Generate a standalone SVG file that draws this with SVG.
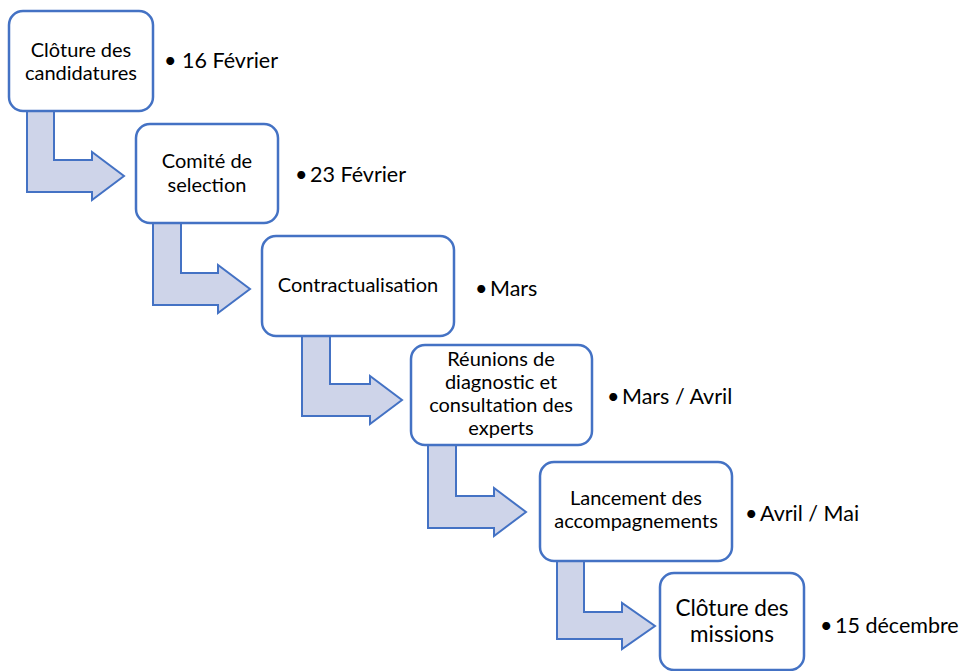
<svg xmlns="http://www.w3.org/2000/svg" width="964" height="671" viewBox="0 0 964 671">
<style>
.box{fill:#fff;stroke:#4472C4;stroke-width:2.5}
.arr{fill:#CED4E9;stroke:#4472C4;stroke-width:2;stroke-linejoin:miter}
.t{font-family:Lato,"Open Sans",sans-serif;font-size:20px;fill:#000;text-anchor:middle}
.tl{font-family:Lato,"Open Sans",sans-serif;font-size:22.5px;fill:#000;text-anchor:middle}
.s{font-family:Lato,"Open Sans",sans-serif;font-size:21.5px;fill:#000}
</style>
<rect width="964" height="671" fill="#fff"/>
<g id="connectors">
<path class="arr" d="M27,111 H54 V160 H92 V152 L124,176 L92,200 V192 H27 Z"/>
<path class="arr" d="M153,223 H181 V273 H218 V265 L250,289 L218,313 V305 H153 Z"/>
<path class="arr" d="M302,336 H330 V384 H370 V376 L402,400 L370,424 V416 H302 Z"/>
<path class="arr" d="M428,445 H456 V496 H494 V488 L526,512 L494,536 V528 H428 Z"/>
<path class="arr" d="M557,561 H584 V612 H622 V603 L655,626 L622,649 V639 H557 Z"/>
</g>
<g id="n1">
<rect class="box" x="9" y="11" width="144" height="100" rx="14"/>
<text class="t" x="81" y="57">Clôture des</text>
<text class="t" x="81" y="80">candidatures</text>
</g>
<g id="d1"><text class="s" y="68"><tspan x="164">•</tspan><tspan x="182">16 Février</tspan></text></g>
<g id="n2">
<rect class="box" x="136" y="124" width="142" height="99" rx="14"/>
<text class="t" x="207" y="168">Comité de</text>
<text class="t" x="207" y="192">selection</text>
</g>
<g id="d2"><text class="s" y="182"><tspan x="295">•</tspan><tspan x="310">23 Février</tspan></text></g>
<g id="n3">
<rect class="box" x="262" y="236" width="192" height="100" rx="14"/>
<text class="t" x="358" y="292">Contractualisation</text>
</g>
<g id="d3"><text class="s" y="296"><tspan x="475">•</tspan><tspan x="490">Mars</tspan></text></g>
<g id="n4">
<rect class="box" x="411" y="345" width="181" height="100" rx="14"/>
<text class="t" x="501" y="366">Réunions de</text>
<text class="t" x="501" y="389">diagnostic et</text>
<text class="t" x="501" y="412">consultation des</text>
<text class="t" x="501" y="435">experts</text>
</g>
<g id="d4"><text class="s" y="404"><tspan x="607">•</tspan><tspan x="622">Mars / Avril</tspan></text></g>
<g id="n5">
<rect class="box" x="540" y="462" width="192" height="99" rx="14"/>
<text class="t" x="636" y="505">Lancement des</text>
<text class="t" x="636" y="528">accompagnements</text>
</g>
<g id="d5"><text class="s" y="521"><tspan x="745">•</tspan><tspan x="760">Avril / Mai</tspan></text></g>
<g id="n6">
<rect class="box" x="660" y="573" width="144" height="97" rx="14"/>
<text class="tl" x="732" y="616">Clôture des</text>
<text class="tl" x="732" y="642">missions</text>
</g>
<g id="d6"><text class="s" y="633"><tspan x="820">•</tspan><tspan x="835">15 décembre</tspan></text></g>
</svg>
